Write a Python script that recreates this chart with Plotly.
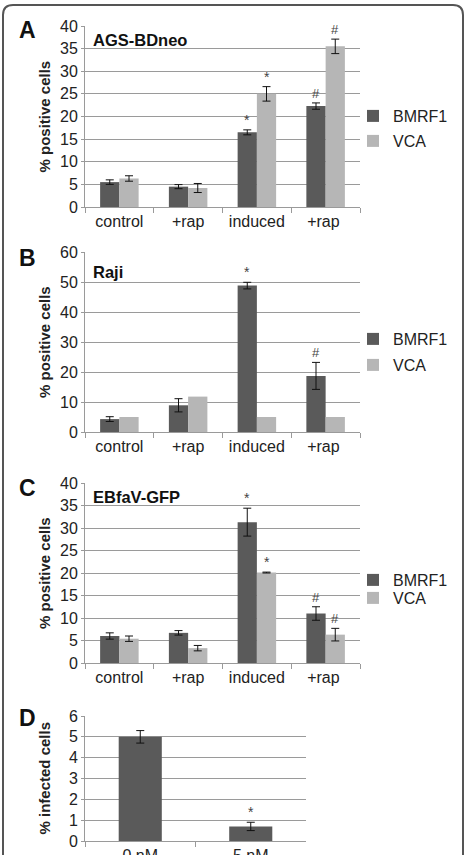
import plotly.graph_objects as go

W, H = 467, 855
FONT = "Liberation Sans, Arial, sans-serif"
DARK = "#5a5a5a"
LIGHT = "#b6b6b6"
GRID = "#9a9a9a"

categories = ["control", "+rap", "induced", "+rap "]
series_names = ["BMRF1", "VCA"]

# Panel A: AGS-BDneo
a_bmrf1 = [5.5, 4.5, 16.5, 22.3]
a_bmrf1_err = [0.5, 0.45, 0.55, 0.7]
a_vca = [6.3, 4.2, 25.0, 35.5]
a_vca_err = [0.6, 1.0, 1.6, 1.6]
a_marks_bmrf1 = ["", "", "*", "#"]
a_marks_vca = ["", "", "*", "#"]

# Panel B: Raji
b_bmrf1 = [4.3, 8.9, 48.8, 18.7]
b_bmrf1_err = [0.8, 2.2, 1.1, 4.5]
b_vca = [5.0, 11.8, 5.0, 5.0]
b_marks_bmrf1 = ["", "", "*", "#"]
b_marks_vca = ["", "", "", ""]

# Panel C: EBfaV-GFP
c_bmrf1 = [6.0, 6.7, 31.3, 11.0]
c_bmrf1_err = [0.7, 0.5, 3.1, 1.5]
c_vca = [5.4, 3.3, 20.1, 6.3]
c_vca_err = [0.6, 0.6, 0.1, 1.4]
c_marks_bmrf1 = ["", "", "*", "#"]
c_marks_vca = ["", "", "*", "#"]

# Panel D
d_categories = ["0 nM", "5 nM"]
d_values = [5.0, 0.7]
d_err = [0.3, 0.2]
d_marks = ["", "*"]


def px_x(p):
    return p / W


def px_y(p):
    return 1 - p / H


fig = go.Figure()

panels = [
    dict(ax="", y0=26, y1=207, rng=40, dt=5, title="AGS-BDneo", letter="A",
         ytitle="% positive cells", b=a_bmrf1, be=a_bmrf1_err, v=a_vca, ve=a_vca_err,
         mb=a_marks_bmrf1, mv=a_marks_vca, leg=(116, 141), title_y=40, letter_y=30),
    dict(ax="2", y0=252, y1=432, rng=60, dt=10, title="Raji", letter="B",
         ytitle="% positive cells", b=b_bmrf1, be=b_bmrf1_err, v=b_vca, ve=None,
         mb=b_marks_bmrf1, mv=b_marks_vca, leg=(339, 365), title_y=272, letter_y=258),
    dict(ax="3", y0=483, y1=663, rng=40, dt=5, title="EBfaV-GFP", letter="C",
         ytitle="% positive cells", b=c_bmrf1, be=c_bmrf1_err, v=c_vca, ve=c_vca_err,
         mb=c_marks_bmrf1, mv=c_marks_vca, leg=(580, 598), title_y=497, letter_y=488),
]

X0, X1 = 85, 360
annotations = []
legend_idx = 1
layout_axes = {}

for i, p in enumerate(panels):
    ax = p["ax"]
    xa = "x" + ax
    ya = "y" + ax
    leg_b = "legend" if legend_idx == 1 else f"legend{legend_idx}"
    leg_v = f"legend{legend_idx + 1}"
    fig.add_trace(go.Bar(
        x=categories, y=p["b"], name=series_names[0], marker_color=DARK,
        marker_line_width=0, xaxis=xa, yaxis=ya, legend=leg_b,
        error_y=dict(type="data", array=p["be"], color="#111", thickness=1, width=4),
    ))
    ev = dict(type="data", array=p["ve"], color="#111", thickness=1, width=4) if p["ve"] else dict(visible=False)
    fig.add_trace(go.Bar(
        x=categories, y=p["v"], name=series_names[1], marker_color=LIGHT,
        marker_line_width=0, xaxis=xa, yaxis=ya, legend=leg_v, error_y=ev,
    ))
    for j, (ly, lg) in enumerate(zip(p["leg"], [leg_b, leg_v])):
        layout_axes[lg] = dict(
            x=px_x(353), y=px_y(ly), xanchor="left", yanchor="middle",
            bgcolor="rgba(0,0,0,0)", borderwidth=0,
            font=dict(family=FONT, size=16, color="#222"),
            itemwidth=30, tracegroupgap=0,
        )
    legend_idx += 2

    xkey = "xaxis" + ax
    ykey = "yaxis" + ax
    layout_axes[xkey] = dict(
        domain=[px_x(X0), px_x(X1)], anchor=ya, type="category", automargin=False,
        showline=True, linecolor=GRID, linewidth=1,
        ticks="outside", tickson="boundaries", ticklen=5, tickcolor=GRID,
        tickfont=dict(family=FONT, size=16, color="#222"),
        showgrid=False, fixedrange=True,
    )
    layout_axes[ykey] = dict(
        domain=[px_y(p["y1"]), px_y(p["y0"])], anchor=xa, automargin=False,
        range=[0, p["rng"]], dtick=p["dt"], showgrid=True, gridcolor=GRID, gridwidth=1,
        showline=True, linecolor=GRID, linewidth=1, ticks="outside", ticklen=3,
        tickcolor=GRID, tickfont=dict(family=FONT, size=16, color="#222"),
        zeroline=False, fixedrange=True,
    )

    # panel letter / title / y title
    annotations.append(dict(text="<b>%s</b>" % p["letter"], x=px_x(27), y=px_y(p["letter_y"]),
                            xref="paper", yref="paper", xanchor="center", yanchor="middle",
                            showarrow=False, font=dict(family=FONT, size=23, color="#111")))
    annotations.append(dict(text="<b>%s</b>" % p["title"], x=px_x(91), y=px_y(p["title_y"]),
                            xref="paper", yref="paper", xanchor="left", yanchor="middle",
                            showarrow=False, font=dict(family=FONT, size=16.5, color="#111")))
    annotations.append(dict(text="<b>%s</b>" % p["ytitle"], x=px_x(44),
                            y=px_y((p["y0"] + p["y1"]) / 2), xref="paper", yref="paper",
                            xanchor="center", yanchor="middle",
                            textangle=-90, showarrow=False,
                            font=dict(family=FONT, size=15, color="#222")))
    # significance marks
    for k in range(len(categories)):
        for off, vals, errs, marks in [(-0.14, p["b"], p["be"], p["mb"]),
                                       (0.14, p["v"], p["ve"], p["mv"])]:
            if marks[k]:
                top = vals[k] + (errs[k] if errs else 0)
                annotations.append(dict(text=marks[k], x=k + off, y=top, xref=xa, yref=ya,
                                        yanchor="bottom", showarrow=False, yshift=0,
                                        font=dict(family=FONT,
                                                  size=13 if marks[k] == "#" else 14,
                                                  color="#444")))

# Panel D
fig.add_trace(go.Bar(
    x=d_categories, y=d_values, marker_color=DARK, marker_line_width=0,
    xaxis="x4", yaxis="y4", showlegend=False, width=0.39,
    error_y=dict(type="data", array=d_err, color="#111", thickness=1, width=4),
))
layout_axes["xaxis4"] = dict(
    domain=[px_x(85), px_x(306)], anchor="y4", type="category", automargin=False,
    showline=True, linecolor=GRID, linewidth=1,
    ticks="outside", tickson="boundaries", ticklen=5, tickcolor=GRID,
    tickfont=dict(family=FONT, size=16, color="#222"), showgrid=False, fixedrange=True,
)
layout_axes["yaxis4"] = dict(
    domain=[px_y(841), px_y(716)], anchor="x4", range=[0, 6], dtick=1, automargin=False,
    showgrid=True, gridcolor=GRID, gridwidth=1, showline=True, linecolor=GRID,
    linewidth=1, ticks="outside", ticklen=3, tickcolor=GRID,
    tickfont=dict(family=FONT, size=16, color="#222"), zeroline=False, fixedrange=True,
)
annotations.append(dict(text="<b>D</b>", x=px_x(27), y=px_y(718), xref="paper", yref="paper",
                        xanchor="center", yanchor="middle",
                        showarrow=False, font=dict(family=FONT, size=23, color="#111")))
annotations.append(dict(text="<b>% infected cells</b>", x=px_x(44), y=px_y(778.5),
                        xref="paper", yref="paper", xanchor="center", yanchor="middle",
                        textangle=-90, showarrow=False,
                        font=dict(family=FONT, size=15, color="#222")))
for k in range(len(d_categories)):
    if d_marks[k]:
        annotations.append(dict(text=d_marks[k], x=k, y=d_values[k] + d_err[k], xref="x4",
                                yref="y4", yanchor="bottom", showarrow=False,
                                font=dict(family=FONT, size=14, color="#444")))

# rounded frame
r = 10
frame = (f"M {px_x(3)},{px_y(880)} L {px_x(3)},{px_y(5 + r)} "
         f"Q {px_x(3)},{px_y(5)} {px_x(3 + r)},{px_y(5)} "
         f"L {px_x(463 - r)},{px_y(5)} Q {px_x(463)},{px_y(5)} {px_x(463)},{px_y(5 + r)} "
         f"L {px_x(463)},{px_y(880)}")

fig.update_layout(
    width=W, height=H, margin=dict(l=0, r=0, t=0, b=0, autoexpand=False),
    paper_bgcolor="white", plot_bgcolor="white",
    barmode="group", bargap=0.44, bargroupgap=0,
    annotations=annotations,
    shapes=[dict(type="path", path=frame, xref="paper", yref="paper",
                 line=dict(color="#555", width=2))],
    font=dict(family=FONT),
    **layout_axes,
)

fig.write_html("out.html")
